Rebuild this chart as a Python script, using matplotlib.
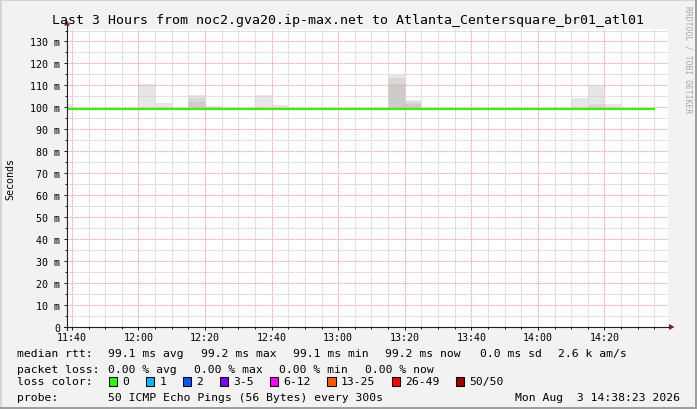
import matplotlib
matplotlib.use("Agg")
import matplotlib.pyplot as plt
from matplotlib.patches import Rectangle, Polygon
from matplotlib.lines import Line2D
from matplotlib.transforms import Affine2D
from matplotlib.ticker import MultipleLocator, FuncFormatter

W, H = 697, 410
MONO = "DejaVu Sans Mono"

title = "Last 3 Hours from noc2.gva20.ip-max.net to Atlanta_Centersquare_br01_atl01"

# 5 minute steps (start of each step)
steps = ["11:35", "11:40", "11:45", "11:50", "11:55", "12:00", "12:05", "12:10",
         "12:15", "12:20", "12:25", "12:30", "12:35", "12:40", "12:45", "12:50",
         "12:55", "13:00", "13:05", "13:10", "13:15", "13:20", "13:25", "13:30",
         "13:35", "13:40", "13:45", "13:50", "13:55", "14:00", "14:05", "14:10",
         "14:15", "14:20", "14:25", "14:30"]

# median rtt per step (ms)
median = [99.1, 99.1, 99.1, 99.1, 99.1, 99.2, 99.1, 99.1,
          99.2, 99.1, 99.1, 99.1, 99.1, 99.1, 99.1, 99.1,
          99.1, 99.1, 99.1, 99.1, 99.2, 99.1, 99.1, 99.1,
          99.1, 99.1, 99.1, 99.1, 99.1, 99.1, 99.1, 99.1,
          99.1, 99.1, 99.1, 99.2]

# smoke: min, max and two inner levels (ms)
smoke_min = [98.9] * 36
smoke_max = [101.6, 99.6, 99.6, 99.6, 99.6, 110.7, 102.1, 99.6,
             105.7, 100.8, 99.6, 99.6, 105.7, 101.1, 99.6, 99.6,
             99.6, 99.6, 99.6, 99.6, 114.5, 103.1, 99.6, 99.6,
             99.6, 99.6, 99.6, 99.6, 99.6, 99.6, 99.6, 104.2,
             109.5, 101.6, 99.6, 99.6]
smoke_mid = [99.4, 99.4, 99.4, 99.4, 99.4, 99.4, 99.4, 99.4,
             104.0, 99.4, 99.4, 99.4, 99.4, 99.4, 99.4, 99.4,
             99.4, 99.4, 99.4, 99.4, 113.2, 102.5, 99.4, 99.4,
             99.4, 99.4, 99.4, 99.4, 99.4, 99.4, 99.4, 99.4,
             101.4, 99.4, 99.4, 99.4]
smoke_core = [99.4, 99.4, 99.4, 99.4, 99.4, 99.4, 99.4, 99.4,
              102.3, 99.4, 99.4, 99.4, 99.4, 99.4, 99.4, 99.4,
              99.4, 99.4, 99.4, 99.4, 110.5, 101.6, 99.4, 99.4,
              99.4, 99.4, 99.4, 99.4, 99.4, 99.4, 99.4, 99.4,
              99.4, 99.4, 99.4, 99.4]

rtt_avg, rtt_max, rtt_min, rtt_now, rtt_sd, am_s = 99.1, 99.2, 99.1, 99.2, 0.0, 2.6
loss_avg, loss_max, loss_min, loss_now = 0.0, 0.0, 0.0, 0.0
loss_labels = ["0", "1", "2", "3-5", "6-12", "13-25", "26-49", "50/50"]
loss_colors = ["#26ff00", "#00b8ff", "#0059ff", "#7e00ff", "#ff00ff",
               "#ff5500", "#ff0000", "#a10000"]
probe = "50 ICMP Echo Pings (56 Bytes) every 300s"
stamp = "Mon Aug  3 14:38:23 2026"


def tmin(s):
    h, m = s.split(":")
    return (int(h) - 11) * 60 + int(m)


x = [tmin(s) for s in steps]

fig = plt.figure(figsize=(W / 100, H / 100), dpi=100, facecolor="#f2f2f2")
px = Affine2D().scale(1 / W, -1 / H).translate(0, 1) + fig.transFigure

# 3d-ish border
fig.add_artist(Rectangle((0, 0), W, 2, transform=px, color="#d4d4d4", lw=0))
fig.add_artist(Rectangle((0, 0), 2, H, transform=px, color="#d4d4d4", lw=0))
fig.add_artist(Rectangle((0, H - 2), W, 2, transform=px, color="#9e9e9e", lw=0))
fig.add_artist(Rectangle((W - 2, 0), 2, H, transform=px, color="#9e9e9e", lw=0))

ax = fig.add_axes([67 / W, 1 - 327.5 / H, (668 - 67) / W, (327.5 - 30) / H])
ax.set_facecolor("white")
ax.set_xlim(38.52, 219.08)
ax.set_ylim(0, 135.7)
for s in ax.spines.values():
    s.set_visible(False)

# smoke
lo = smoke_min
ax.bar(x, [a - b for a, b in zip(smoke_max, lo)], bottom=lo, width=5, align="edge",
       color="#e6e6e6", lw=0, zorder=1)
ax.bar(x, [a - b for a, b in zip(smoke_mid, lo)], bottom=lo, width=5, align="edge",
       color="#d8d8d8", lw=0, zorder=1.1)
ax.bar(x, [a - b for a, b in zip(smoke_core, lo)], bottom=lo, width=5, align="edge",
       color="#cbcbcb", lw=0, zorder=1.2)

# grid
ax.xaxis.set_major_locator(MultipleLocator(20))
ax.xaxis.set_minor_locator(MultipleLocator(5))
ax.yaxis.set_major_locator(MultipleLocator(10))
ax.yaxis.set_minor_locator(MultipleLocator(5))
ax.grid(which="minor", color="#d2d2d2", lw=0.72, ls=(0, (2, 1)), zorder=2)
ax.grid(which="major", color="#f4aaaa", lw=0.72, ls=(0, (2, 1)), zorder=2.1)

# median line
ax.step(x + [x[-1] + 5], median + [median[-1]], where="post", color="#26ff00",
        lw=1.5, zorder=3)

ax.xaxis.set_major_formatter(FuncFormatter(lambda v, p: "%d:%02d" % (11 + int(v) // 60, int(v) % 60)))
ax.yaxis.set_major_formatter(FuncFormatter(lambda v, p: "0" if v == 0 else "%d m" % v))
ax.tick_params(which="major", length=2.2, width=0.72, color="#1f1f1f", labelsize=7.2, pad=2.5)
ax.tick_params(which="minor", length=1.4, width=0.72, color="#1f1f1f")
ax.tick_params(axis="x", which="both", pad=1.5)
for lab in ax.get_xticklabels() + ax.get_yticklabels():
    lab.set_fontfamily(MONO)

# axes with arrows
fig.add_artist(Line2D([67, 67], [331, 26], transform=px, color="#1f1f1f", lw=0.8))
fig.add_artist(Line2D([64, 669], [328, 328], transform=px, color="#1f1f1f", lw=0.8))
fig.add_artist(Polygon([(64, 26.5), (70, 26.5), (67, 21.5)], transform=px, color="#801f1f", lw=0))
fig.add_artist(Polygon([(669, 325), (669, 331), (674.5, 328)], transform=px, color="#801f1f", lw=0))

# texts
fig.text(347.5 / W, 1 - 24 / H, title, ha="center", va="baseline", fontsize=9.57, family=MONO)
fig.text(10.5 / W, 1 - 179 / H, "Seconds", rotation=90, ha="center", va="center", fontsize=7.2, family=MONO)
fig.text(688 / W, 1 - 60 / H, "RRDTOOL / TOBI OETIKER", rotation=270, ha="center", va="center",
         fontsize=5.8, family=MONO, color="#a6a6a6")

fs = 8.2
row1 = [("median rtt:", 16.7), ("%.1f ms avg" % rtt_avg, 107.7), ("%.1f ms max" % rtt_max, 201),
        ("%.1f ms min" % rtt_min, 293), ("%.1f ms now" % rtt_now, 385),
        ("%.1f ms sd" % rtt_sd, 480), ("%.1f k am/s" % am_s, 558.3)]
row2 = [("packet loss:", 16.7), ("%.2f %% avg" % loss_avg, 107.7), ("%.2f %% max" % loss_max, 194.3),
        ("%.2f %% min" % loss_min, 279.3), ("%.2f %% now" % loss_now, 365)]
for txt, xx in row1:
    fig.text(xx / W, 1 - 357 / H, txt, ha="left", va="baseline", fontsize=fs, family=MONO)
for txt, xx in row2:
    fig.text(xx / W, 1 - 373 / H, txt, ha="left", va="baseline", fontsize=fs, family=MONO)

fig.text(16.7 / W, 1 - 385.5 / H, "loss color:", ha="left", va="baseline", fontsize=fs, family=MONO)
bx = 109
for lab, col in zip(loss_labels, loss_colors):
    fig.add_artist(Rectangle((bx, 378.2), 8.3, 8.3, transform=px, facecolor=col,
                             edgecolor="black", lw=0.75))
    fig.text((bx + 13.5) / W, 1 - 385.5 / H, lab, ha="left", va="baseline", fontsize=fs, family=MONO)
    bx += 13.5 + 6.84 * len(lab) + 16.5

fig.text(16.7 / W, 1 - 401 / H, "probe:", ha="left", va="baseline", fontsize=fs, family=MONO)
fig.text(107.7 / W, 1 - 401 / H, probe, ha="left", va="baseline", fontsize=fs, family=MONO)
fig.text(680 / W, 1 - 401 / H, stamp, ha="right", va="baseline", fontsize=fs, family=MONO)

fig.savefig("out.png", dpi=100, facecolor=fig.get_facecolor())
